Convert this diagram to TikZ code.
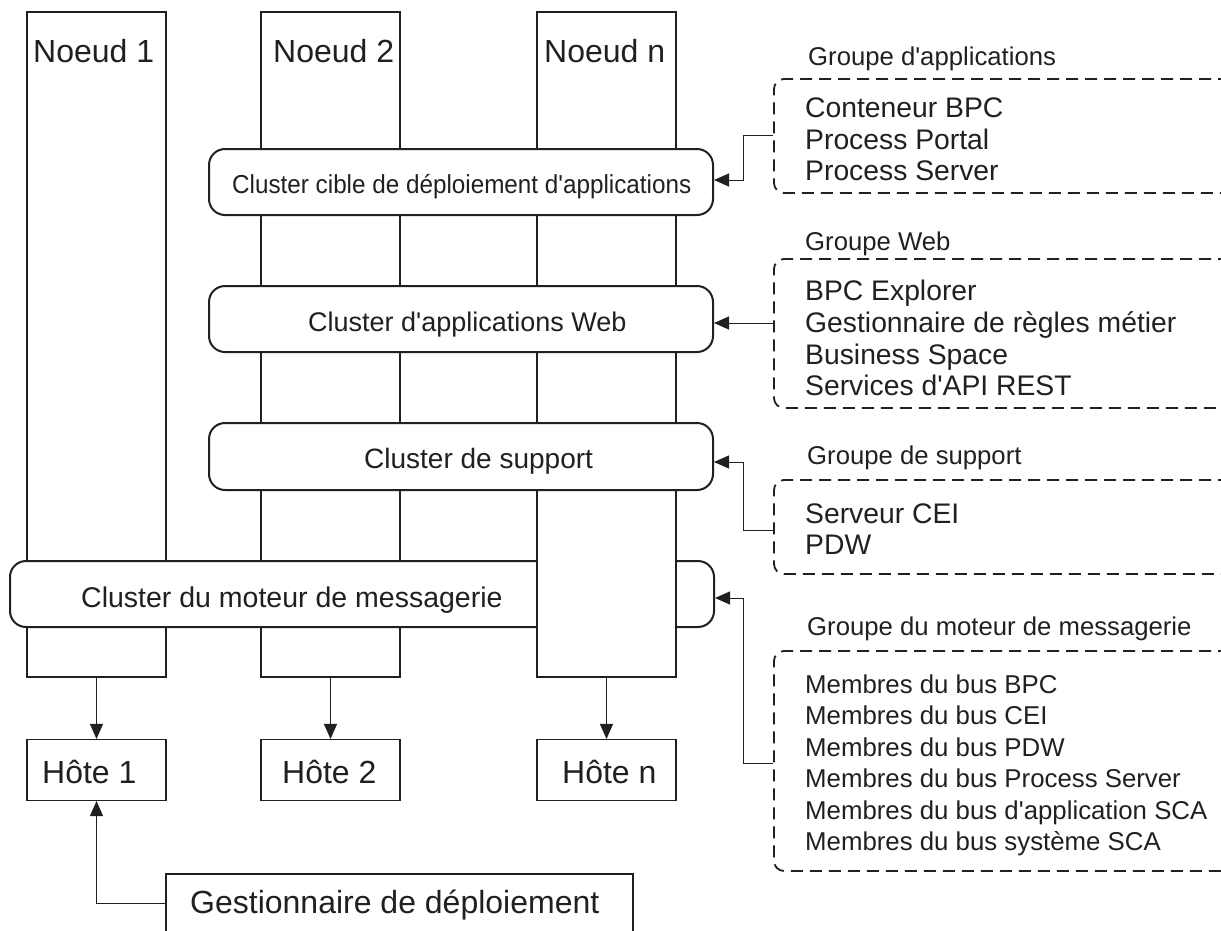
\documentclass[tikz,border=0pt]{standalone}
\usepackage{fontspec}
\setmainfont{Liberation Sans}[Ligatures=TeXOff]
\newfontfamily\condfont[FakeStretch=0.933]{Liberation Sans}
\usetikzlibrary{arrows.meta}
\definecolor{ink}{HTML}{231F20}
\begin{document}
\begin{tikzpicture}[x=1pt,y=-1pt,
  col/.style={draw=ink,line width=2pt,fill=white,inner sep=0pt},
  clus/.style={draw=ink,line width=2pt,fill=white,rounded corners=16pt,inner sep=0pt},
  host/.style={draw=ink,line width=1.1pt,fill=white,inner sep=0pt},
  grp/.style={draw=ink,line width=1.8pt,dash pattern=on 12pt off 7pt,rounded corners=10pt,inner sep=0pt},
  arr/.style={draw=ink,line width=1pt,-{Triangle[length=15pt,width=13pt]}},
  txt/.style={anchor=base west,inner sep=0pt,text=ink},
  big/.style={txt,font=\fontsize{32}{38}\selectfont},
  clt/.style={txt,font=\fontsize{28}{33}\selectfont},
  hdr/.style={txt,font=\fontsize{25.7}{30}\selectfont},
  itm/.style={txt,font=\fontsize{28.3}{33}\selectfont},
  itms/.style={txt,font=\fontsize{25.8}{30}\selectfont}
]
\useasboundingbox (0,0) rectangle (1221,930);
\clip (0,0) rectangle (1221,930);

% node columns 1 and 2
\node[col,minimum width=139pt,minimum height=665pt] (n1) at (96.5,344.5) {};
\node[col,minimum width=139pt,minimum height=665pt] (n2) at (330.5,344.5) {};
\node[big] (n1t) at (33,62) {Noeud 1};
\node[big] (n2t) at (273,62) {Noeud 2};

% messaging cluster (behind column n)
\node[clus,minimum width=704pt,minimum height=66pt] (cM) at (362,594) {};
\node[clt,font=\fontsize{28.5}{33}\selectfont] (cMt) at (81,607) {Cluster du moteur de messagerie};

% column n
\node[col,minimum width=139pt,minimum height=665pt] (nn) at (606.5,344.5) {};
\node[big] (nnt) at (544,62) {Noeud n};

% clusters over the columns
\node[clus,minimum width=504pt,minimum height=66pt] (cA) at (461,182) {};
\node[txt,font=\condfont\fontsize{26}{31}\selectfont] (cAt) at (232,193) {Cluster cible de déploiement d'applications};
\node[clus,minimum width=504pt,minimum height=66pt] (cW) at (461,319) {};
\node[clt,font=\fontsize{27}{33}\selectfont] (cWt) at (308,331) {Cluster d'applications Web};
\node[clus,minimum width=504pt,minimum height=67pt] (cS) at (461,456.5) {};
\node[clt] (cSt) at (364,468) {Cluster de support};

% hosts
\node[host,minimum width=139pt,minimum height=61pt] (h1) at (96.5,770) {};
\node[host,minimum width=139pt,minimum height=61pt] (h2) at (330.5,770) {};
\node[host,minimum width=139pt,minimum height=61pt] (hn) at (606.5,770) {};
\node[big] (h1t) at (42,783) {Hôte 1};
\node[big] (h2t) at (282,783) {Hôte 2};
\node[big] (hnt) at (562,783) {Hôte n};

\draw[arr] (n1.south) -- (h1.north);
\draw[arr] (n2.south) -- (h2.north);
\draw[arr] (nn.south) -- (hn.north);

% deployment manager
\node[host,minimum width=467pt,minimum height=86pt] (gd) at (399.5,917) {};
\node[big] (gdt) at (190,913) {Gestionnaire de déploiement};
\draw[arr] ([yshift=14pt]gd.west) -| (h1.south);

% groups
\node[hdr] (gAh) at (808,65) {Groupe d'applications};
\node[grp,minimum width=466pt,minimum height=114pt] (gA) at (1007,136) {};
\foreach \t/\y [count=\i] in {Conteneur BPC/117,Process Portal/149,Process Server/180}
  \node[itm] (gA\i) at (805,\y) {\t};

\node[hdr] (gWh) at (805,250) {Groupe Web};
\node[grp,minimum width=466pt,minimum height=149pt] (gW) at (1007,333.5) {};
\foreach \t/\y [count=\i] in {BPC Explorer/300,Gestionnaire de règles métier/332,Business Space/364,Services d'API REST/395}
  \node[itm] (gW\i) at (805,\y) {\t};

\node[hdr] (gSh) at (807,464) {Groupe de support};
\node[grp,minimum width=466pt,minimum height=94pt] (gS) at (1007,527) {};
\foreach \t/\y [count=\i] in {Serveur CEI/523,PDW/554}
  \node[itm] (gS\i) at (805,\y) {\t};

\node[hdr] (gMh) at (807,635) {Groupe du moteur de messagerie};
\node[grp,minimum width=466pt,minimum height=220pt] (gM) at (1007,761) {};
\foreach \t/\y [count=\i] in {Membres du bus BPC/693,Membres du bus CEI/724,Membres du bus PDW/756,Membres du bus Process Server/787,Membres du bus d'application SCA/819,Membres du bus système SCA/850}
  \node[itms] (gM\i) at (805,\y) {\t};

% group connectors
\coordinate (cAa) at ([yshift=2pt]cA.east);
\coordinate (cWa) at ([yshift=-4pt]cW.east);
\coordinate (cSa) at ([yshift=-5.5pt]cS.east);
\coordinate (cMa) at ([yshift=-4pt]cM.east);
\draw[arr] ([yshift=1pt]gA.west) -| ([xshift=29pt]cAa) -- (cAa);
\draw[arr] (gW.west |- cWa) -- (cWa);
\draw[arr] ([yshift=-3pt]gS.west) -| ([xshift=29pt]cSa) -- (cSa);
\draw[arr] ([yshift=-2pt]gM.west) -| ([xshift=28pt]cMa) -- (cMa);
\end{tikzpicture}
\end{document}
